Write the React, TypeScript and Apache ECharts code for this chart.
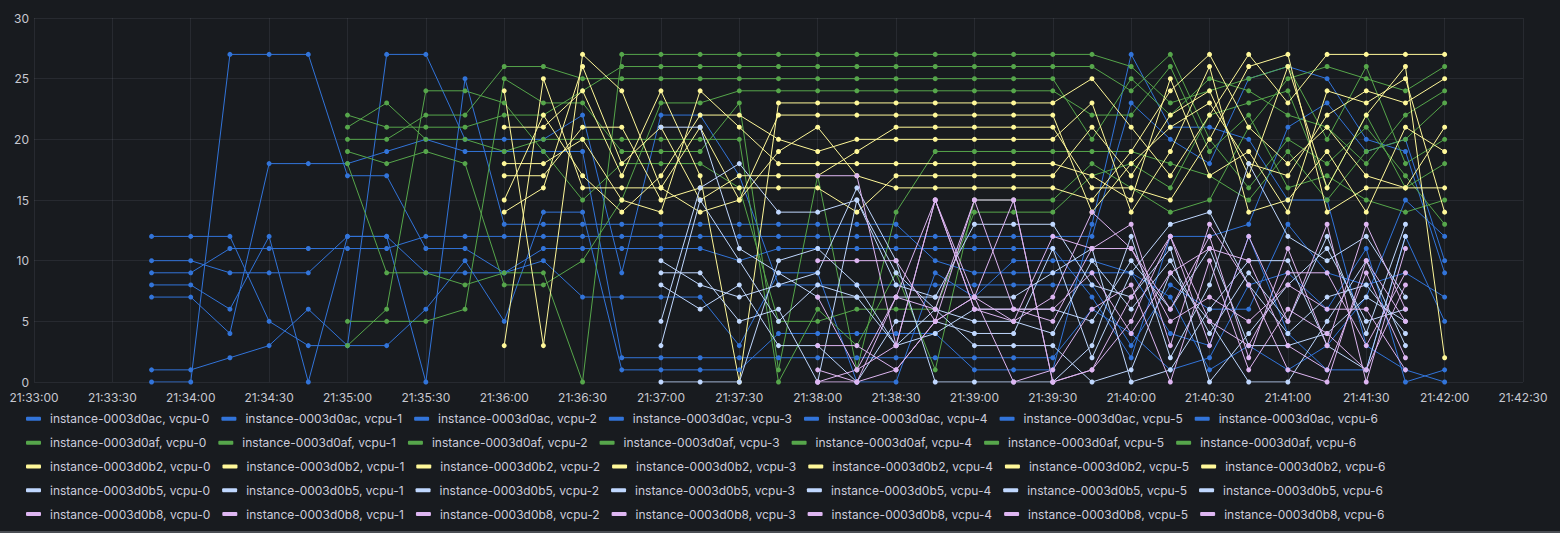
import React, { useEffect, useRef } from "react";
import * as echarts from "echarts";

// sample timestamps (every 15 s)
const times = ["21:33:45","21:34:00","21:34:15","21:34:30","21:34:45","21:35:00","21:35:15","21:35:30","21:35:45","21:36:00","21:36:15","21:36:30","21:36:45","21:37:00","21:37:15","21:37:30","21:37:45","21:38:00","21:38:15","21:38:30","21:38:45","21:39:00","21:39:15","21:39:30","21:39:45","21:40:00","21:40:15","21:40:30","21:40:45","21:41:00","21:41:15","21:41:30","21:41:45","21:42:00"];

const xTickLabels = ["21:33:00","21:33:30","21:34:00","21:34:30","21:35:00","21:35:30","21:36:00","21:36:30","21:37:00","21:37:30","21:38:00","21:38:30","21:39:00","21:39:30","21:40:00","21:40:30","21:41:00","21:41:30","21:42:00","21:42:30"];
const yTickLabels = ["0","5","10","15","20","25","30"];

const instances = ["instance-0003d0ac","instance-0003d0af","instance-0003d0b2","instance-0003d0b5","instance-0003d0b8"];
const instanceColors = ["#3274D9","#56A64B","#FFF899","#C0D8FF","#DEB6F2"];
// index in `times` of each instance's first sample
const instanceStart = [0, 5, 9, 13, 17];

// instance-0003d0ac (from 21:33:45)
const ac0 = [12,12,12,5,3,3,27,27,20,20,20,22,9,22,22,17,8,8,8,8,8,8,8,8,8,3,8,6,6,13,9,8,9,7];
const ac1 = [10,10,9,9,9,12,12,0,25,13,13,13,13,13,13,13,13,13,13,13,10,9,9,9,9,9,7,1,3,1,3,7,15,12];
const ac2 = [9,9,11,11,11,11,11,12,12,12,12,12,12,12,12,12,12,12,12,12,12,12,12,12,12,23,20,18,25,26,25,20,19,9];
const ac3 = [8,8,6,12,0,12,12,9,9,9,11,11,11,11,11,10,11,11,11,11,11,11,11,11,7,2,12,12,13,21,23,19,20,10];
const ac4 = [7,7,4,18,18,18,19,20,19,19,19,19,2,2,2,2,2,2,2,2,2,2,2,2,6,4,1,2,8,9,6,11,0,1];
const ac5 = [1,1,2,3,6,3,3,6,10,5,14,14,1,1,1,1,4,4,4,4,4,1,1,1,13,27,21,21,20,15,15,3,1,0];
const ac6 = [0,0,27,27,27,17,17,11,11,9,10,7,7,7,7,3,9,9,0,0,9,7,10,10,10,9,4,3,12,4,1,1,12,5];

// instance-0003d0af (from 21:35:00)
const af0 = [22,21,21,21,22,22,24,26,26,26,26,26,26,26,26,26,26,26,26,26,24,27,20,16,20,18,21,17,13];
const af1 = [21,23,20,20,19,20,20,20,20,20,20,0,6,3,9,1,15,15,15,18,16,14,15,21,25,26,25,24,26];
const af2 = [20,20,22,22,26,26,25,25,25,25,25,25,25,25,25,25,25,25,25,20,25,22,25,24,22,21,18,22,24];
const af3 = [19,18,19,18,8,8,10,15,23,23,24,24,24,24,24,24,24,24,24,22,22,26,19,22,16,17,15,14,15];
const af4 = [18,9,9,8,9,9,0,27,27,27,27,27,27,27,27,27,27,27,27,27,26,23,24,25,26,20,26,18,20];
const af5 = [5,5,5,6,25,23,23,19,19,19,23,1,17,1,14,19,19,19,19,19,19,18,17,15,19,15,19,20,23];
const af6 = [3,6,24,24,23,19,15,18,18,18,16,5,5,6,6,6,14,14,14,17,18,16,22,23,24,16,22,16,18];

// instance-0003d0b2 (from 21:36:00)
const b20 = [24,3,27,24,16,14,15,19,21,17,16,16,16,16,16,15,19,24,27,21,18,21,17,16,16];
const b21 = [21,21,24,17,24,17,0,23,23,23,23,23,23,23,23,25,21,17,22,27,23,27,27,27,27];
const b22 = [18,18,20,15,14,24,21,18,18,18,18,18,18,18,18,17,15,25,17,19,14,24,23,25,14];
const b23 = [17,17,21,21,15,16,16,16,16,14,17,17,17,17,17,21,17,22,24,17,26,16,22,26,2];
const b24 = [15,22,17,14,17,22,22,20,19,20,20,20,20,20,20,23,14,19,26,14,15,19,14,21,19];
const b25 = [14,16,26,18,21,15,17,17,17,19,21,21,21,21,21,16,16,15,20,26,27,14,16,16,21];
const b26 = [3,25,16,16,16,21,15,22,22,22,22,22,22,22,22,14,18,21,23,18,17,22,24,23,25];

// instance-0003d0b5 (from 21:37:00)
const b50 = [21,21,11,9,7,7,3,6,5,5,4,10,6,10,4,9,5,12,4,13];
const b51 = [10,8,7,8,9,16,10,0,0,0,0,3,12,2,8,18,12,10,12,7];
const b52 = [9,9,5,6,0,15,8,7,13,13,13,8,7,11,0,4,8,11,5,6];
const b53 = [8,6,8,3,3,0,5,5,4,4,11,2,9,13,14,8,4,7,8,4];
const b54 = [5,16,18,14,14,15,9,6,3,3,3,0,1,9,5,0,0,5,10,3];
const b55 = [3,15,10,5,8,7,7,7,7,7,9,11,0,1,6,10,10,3,1,12];
const b56 = [0,0,0,10,11,8,3,4,6,6,6,5,10,6,11,3,3,4,7,5];

// instance-0003d0b8 (from 21:38:00)
const b80 = [17,17,3,15,7,5,7,14,11,6,12,2,11,3,13,6];
const b81 = [10,10,10,5,15,15,0,1,5,12,3,12,5,13,0,11];
const b82 = [7,1,7,15,6,6,5,11,13,3,13,8,1,0,10,5];
const b83 = [3,3,1,5,7,0,1,6,8,0,10,1,6,4,1,8];
const b84 = [1,0,7,6,15,6,6,9,4,9,11,10,3,1,9,2];
const b85 = [0,1,3,15,6,5,12,11,11,5,7,5,8,6,6,1];
const b86 = [0,0,1,5,7,15,0,1,7,12,5,3,9,9,3,9];

const instanceData = [
  [ac0, ac1, ac2, ac3, ac4, ac5, ac6],
  [af0, af1, af2, af3, af4, af5, af6],
  [b20, b21, b22, b23, b24, b25, b26],
  [b50, b51, b52, b53, b54, b55, b56],
  [b80, b81, b82, b83, b84, b85, b86],
];

const toSec = (t: string) => {
  const [h, m, s] = t.split(":").map(Number);
  return h * 3600 + m * 60 + s - (21 * 3600 + 33 * 60);
};

const rowCenters = [418.7, 442.7, 466.5, 490.3, 514];

export default function App() {
  const ref = useRef<HTMLDivElement>(null);
  useEffect(() => {
    if (!ref.current) return;
    const chart = echarts.init(ref.current, null, { renderer: "svg" });
    const series: any[] = [];
    const legends: any[] = [];
    instances.forEach((inst, ii) => {
      const names: string[] = [];
      instanceData[ii].forEach((vals, vi) => {
        const name = `${inst}, vcpu-${vi}`;
        names.push(name);
        series.push({
          name,
          type: "line",
          data: vals.map((v, k) => [toSec(times[instanceStart[ii] + k]), v]),
          symbol: "circle",
          symbolSize: 5,
          showSymbol: true,
          color: instanceColors[ii],
          itemStyle: { color: instanceColors[ii] },
          lineStyle: { width: 1, color: instanceColors[ii] },
          emphasis: { disabled: true },
          silent: true,
        });
      });
      legends.push({
        show: true,
        data: names.map((n) => ({ name: n, itemStyle: { color: instanceColors[ii] } })),
        left: 26,
        top: rowCenters[ii] - 8,
        orient: "horizontal",
        padding: 0,
        itemWidth: 15,
        itemHeight: 4,
        itemGap: 12,
        icon: "roundRect",
        selectedMode: false,
        textStyle: {
          color: "#ccccdc",
          fontFamily: "Inter",
          fontSize: 12,
          lineHeight: 16,
          padding: [0, 0, 0, 4],
        },
      });
    });

    chart.setOption({
      animation: false,
      backgroundColor: "#181b1f",
      textStyle: { fontFamily: "Inter" },
      grid: { left: 34, right: 37, top: 18, bottom: 151, containLabel: false },
      legend: legends,
      xAxis: {
        type: "value",
        min: 0,
        max: 570,
        interval: 30,
        axisLine: { show: false },
        axisTick: { show: false },
        splitLine: { show: true, lineStyle: { color: "rgba(204,204,220,0.09)", width: 1 } },
        axisLabel: {
          color: "#c7c8d0",
          fontSize: 12,
          fontFamily: "Inter",
          margin: 9,
          showMinLabel: true,
          showMaxLabel: true,
          formatter: (v: number) => xTickLabels[Math.round(v / 30)] ?? "",
        },
      },
      yAxis: {
        type: "value",
        min: 0,
        max: 30,
        interval: 5,
        axisLine: { show: false },
        axisTick: { show: false },
        splitLine: { show: true, lineStyle: { color: "rgba(204,204,220,0.09)", width: 1 } },
        axisLabel: {
          color: "#c7c8d0",
          fontSize: 12,
          fontFamily: "Inter",
          margin: 5,
          formatter: (v: number) => yTickLabels[Math.round(v / 5)] ?? "",
        },
      },
      graphic: [
        { type: "rect", shape: { x: 0, y: 531, width: 1560, height: 2 }, style: { fill: "#4a4d53" }, silent: true },
      ],
      series,
    });
    return () => chart.dispose();
  }, []);
  return (
    <div
      ref={ref}
      style={{ position: "fixed", left: 0, top: 0, width: 1560, height: 533 }}
    />
  );
}
